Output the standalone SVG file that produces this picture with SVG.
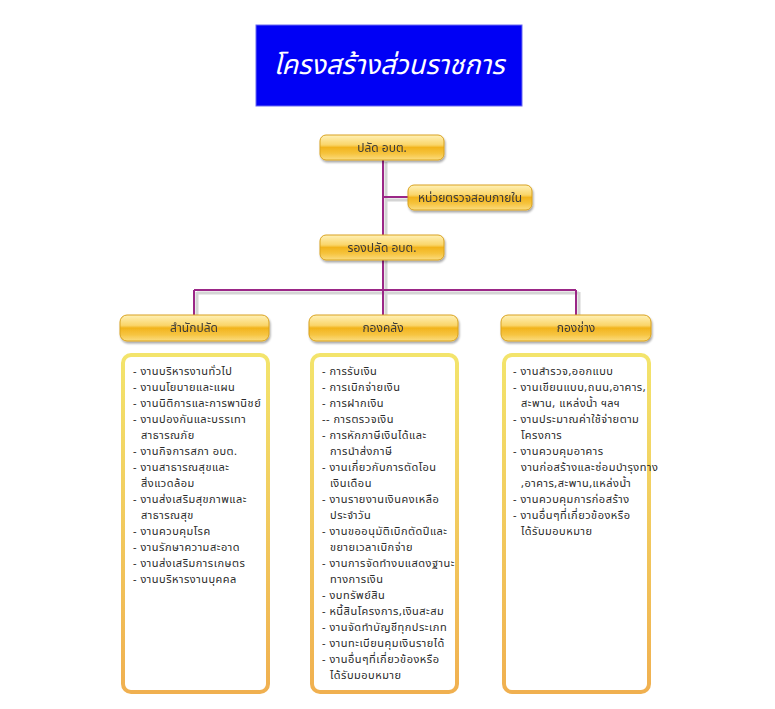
<svg xmlns="http://www.w3.org/2000/svg" width="775" height="709" viewBox="0 0 775 709">
<defs>
<linearGradient id="gold" x1="0" y1="0" x2="0" y2="1">
<stop offset="0" stop-color="#FFF1B8"/>
<stop offset="0.4" stop-color="#FAD568"/>
<stop offset="0.5" stop-color="#F2B41C"/>
<stop offset="0.75" stop-color="#F6C440"/>
<stop offset="1" stop-color="#FBDD80"/>
</linearGradient>
<linearGradient id="frame" x1="0" y1="0" x2="0" y2="1">
<stop offset="0" stop-color="#F3E46C"/>
<stop offset="1" stop-color="#F0B050"/>
</linearGradient>
<filter id="sh" x="-10%" y="-10%" width="130%" height="150%">
<feGaussianBlur in="SourceAlpha" stdDeviation="1.2"/>
<feOffset dx="1" dy="2" result="b"/>
<feComponentTransfer><feFuncA type="linear" slope="0.35"/></feComponentTransfer>
<feMerge><feMergeNode/><feMergeNode in="SourceGraphic"/></feMerge>
</filter>
</defs>
<style>
.hd{fill:url(#gold);stroke:#D9A21E;stroke-width:1}
.hdt{font-family:Tahoma,"Noto Sans Thai","Noto Sans","DejaVu Sans",sans-serif;font-size:12px;fill:#3a3a3a;text-anchor:middle}
.box{fill:#FFFFFF;stroke:url(#frame);stroke-width:4}
.li{font-family:Tahoma,"Noto Sans Thai","Noto Sans","DejaVu Sans",sans-serif;font-size:11px;letter-spacing:0.5px;fill:#2a2a2a}
.ln{stroke:#9B2787;stroke-width:2;fill:none}
.lsh{stroke:#D4D4D4;stroke-width:3;fill:none}
</style>
<rect width="775" height="709" fill="#FFFFFF"/>
<g id="title">
<rect x="256" y="25" width="266" height="81" fill="#0000F5" stroke="#6A6AF0" stroke-width="1"/>
<text x="389" y="74" font-family="Tahoma,'Noto Sans Thai','Noto Sans','DejaVu Sans',sans-serif" font-size="27" font-style="italic" fill="#FFFFFF" text-anchor="middle">โครงสร้างส่วนราชการ</text>
</g>
<g id="connectors">
<path class="lsh" d="M386 162V292M386 200H409M197 292V317M386 292V317M579 292V317M197 293H579"/>
<path class="ln" d="M383 160V290M383 197H408M194 290H576M194 290V316M383 290V316M576 290V316"/>
</g>
<g id="n-palad" filter="url(#sh)">
<rect class="hd" x="320" y="135" width="124" height="25" rx="6"/>
<text class="hdt" x="382" y="152">ปลัด อบต.</text>
</g>
<g id="n-audit" filter="url(#sh)">
<rect class="hd" x="408" y="185" width="124" height="25" rx="6"/>
<text class="hdt" x="470" y="202">หน่วยตรวจสอบภายใน</text>
</g>
<g id="n-ropalad" filter="url(#sh)">
<rect class="hd" x="320" y="235" width="124" height="25" rx="6"/>
<text class="hdt" x="382" y="252">รองปลัด อบต.</text>
</g>
<g id="n-samnak" filter="url(#sh)">
<rect class="hd" x="120" y="315" width="149" height="26" rx="7"/>
<text class="hdt" x="194" y="332">สำนักปลัด</text>
</g>
<g id="n-klang" filter="url(#sh)">
<rect class="hd" x="309" y="315" width="149" height="26" rx="7"/>
<text class="hdt" x="383" y="332">กองคลัง</text>
</g>
<g id="n-chang" filter="url(#sh)">
<rect class="hd" x="501" y="315" width="150" height="26" rx="7"/>
<text class="hdt" x="576" y="332">กองช่าง</text>
</g>
<g id="list-samnak">
<rect class="box" x="123" y="355" width="145" height="337" rx="8"/>
<text class="li" x="133" y="375">- งานบริหารงานทั่วไป</text>
<text class="li" x="133" y="391">- งานนโยบายและแผน</text>
<text class="li" x="133" y="407">- งานนิติการและการพานิชย์</text>
<text class="li" x="133" y="423">- งานปองกันและบรรเทา</text>
<text class="li" x="141" y="439">สาธารณภัย</text>
<text class="li" x="133" y="455">- งานกิจการสภา อบต.</text>
<text class="li" x="133" y="471">- งานสาธารณสุขและ</text>
<text class="li" x="141" y="487">สิ่งแวดล้อม</text>
<text class="li" x="133" y="503">- งานส่งเสริมสุขภาพและ</text>
<text class="li" x="141" y="519">สาธารณสุข</text>
<text class="li" x="133" y="535">- งานควบคุมโรค</text>
<text class="li" x="133" y="551">- งานรักษาความสะอาด</text>
<text class="li" x="133" y="567">- งานส่งเสริมการเกษตร</text>
<text class="li" x="133" y="583">- งานบริหารงานบุคคล</text>
</g>
<g id="list-klang">
<rect class="box" x="312" y="355" width="145" height="337" rx="8"/>
<text class="li" x="322" y="375">- การรับเงิน</text>
<text class="li" x="322" y="391">- การเบิกจ่ายเงิน</text>
<text class="li" x="322" y="407">- การฝากเงิน</text>
<text class="li" x="322" y="423">-- การตรวจเงิน</text>
<text class="li" x="322" y="439">- การหักภาษีเงินได้และ</text>
<text class="li" x="330" y="455">การนำส่งภาษี</text>
<text class="li" x="322" y="471">- งานเกี่ยวกับการตัดโอน</text>
<text class="li" x="330" y="487">เงินเดือน</text>
<text class="li" x="322" y="503">- งานรายงานเงินคงเหลือ</text>
<text class="li" x="330" y="519">ประจำวัน</text>
<text class="li" x="322" y="535">- งานขออนุมัติเบิกตัดปีและ</text>
<text class="li" x="330" y="551">ขยายเวลาเบิกจ่าย</text>
<text class="li" x="322" y="567">- งานการจัดทำงบแสดงฐานะ</text>
<text class="li" x="330" y="583">ทางการเงิน</text>
<text class="li" x="322" y="599">- งบทรัพย์สิน</text>
<text class="li" x="322" y="615">- หนี้สินโครงการ,เงินสะสม</text>
<text class="li" x="322" y="631">- งานจัดทำบัญชีทุกประเภท</text>
<text class="li" x="322" y="647">- งานทะเบียนคุมเงินรายได้</text>
<text class="li" x="322" y="663">- งานอื่นๆที่เกี่ยวข้องหรือ</text>
<text class="li" x="330" y="679">ได้รับมอบหมาย</text>
</g>
<g id="list-chang">
<rect class="box" x="504" y="355" width="145" height="337" rx="8"/>
<text class="li" x="513" y="375">- งานสำรวจ,ออกแบบ</text>
<text class="li" x="513" y="391">- งานเขียนแบบ,ถนน,อาคาร,</text>
<text class="li" x="521" y="407">สะพาน, แหล่งน้ำ ฯลฯ</text>
<text class="li" x="513" y="423">- งานประมาณค่าใช้จ่ายตาม</text>
<text class="li" x="521" y="439">โครงการ</text>
<text class="li" x="513" y="455">- งานควบคุมอาคาร</text>
<text class="li" x="521" y="471">งานก่อสร้างและซ่อมบำรุงทาง</text>
<text class="li" x="521" y="487">,อาคาร,สะพาน,แหล่งน้ำ</text>
<text class="li" x="513" y="503">- งานควบคุมการก่อสร้าง</text>
<text class="li" x="513" y="519">- งานอื่นๆที่เกี่ยวข้องหรือ</text>
<text class="li" x="521" y="535">ได้รับมอบหมาย</text>
</g>
</svg>
